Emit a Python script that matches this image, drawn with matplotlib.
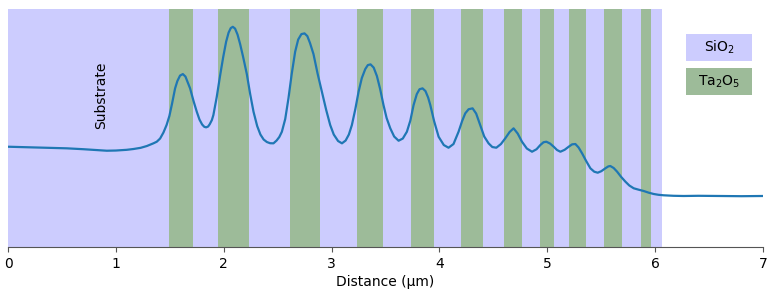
import matplotlib
matplotlib.use("Agg")
import matplotlib.pyplot as plt
from matplotlib.patches import Rectangle

# layer stack: SiO2 background up to stack_end, Ta2O5 bands on top
stack_end = 6.064
ta2o5_start = [1.496, 1.948, 2.610, 3.235, 3.738, 4.200, 4.601, 4.929, 5.204, 5.526, 5.872]
ta2o5_end = [1.713, 2.233, 2.894, 3.476, 3.952, 4.403, 4.768, 5.065, 5.355, 5.693, 5.965]

dist = [0.000, 0.100, 0.235, 0.400, 0.545, 0.700, 0.850, 0.916, 1.000, 1.100,
        1.162, 1.230, 1.287, 1.348, 1.379, 1.410, 1.441, 1.470, 1.496, 1.520,
        1.549, 1.570, 1.595, 1.621, 1.645, 1.665, 1.688, 1.720, 1.750, 1.775,
        1.800, 1.820, 1.837, 1.855, 1.870, 1.890, 1.904, 1.935, 1.967, 1.995,
        2.022, 2.045, 2.065, 2.084, 2.105, 2.128, 2.152, 2.180, 2.214, 2.245,
        2.276, 2.310, 2.340, 2.370, 2.400, 2.430, 2.461, 2.490, 2.515, 2.539,
        2.570, 2.600, 2.630, 2.662, 2.690, 2.720, 2.749, 2.775, 2.800, 2.832,
        2.870, 2.910, 2.950, 2.987, 3.020, 3.060, 3.096, 3.130, 3.160, 3.188,
        3.220, 3.250, 3.280, 3.312, 3.336, 3.361, 3.390, 3.420, 3.450, 3.481,
        3.510, 3.544, 3.580, 3.621, 3.660, 3.698, 3.730, 3.760, 3.790, 3.815,
        3.843, 3.870, 3.895, 3.915, 3.950, 3.992, 4.040, 4.084, 4.130, 4.177,
        4.210, 4.239, 4.270, 4.307, 4.340, 4.378, 4.415, 4.455, 4.490, 4.527,
        4.570, 4.610, 4.650, 4.687, 4.725, 4.765, 4.810, 4.858, 4.900, 4.935,
        4.965, 4.991, 5.025, 5.059, 5.090, 5.121, 5.160, 5.198, 5.230, 5.260,
        5.290, 5.322, 5.360, 5.399, 5.435, 5.467, 5.500, 5.538, 5.565, 5.584,
        5.615, 5.647, 5.685, 5.724, 5.760, 5.801, 5.850, 5.893, 5.940, 5.986,
        6.030, 6.079, 6.170, 6.264, 6.400, 6.574, 6.800, 6.997]
signal = [100.3, 100.0, 99.7, 99.2, 98.7, 97.8, 96.8, 96.3, 96.5, 97.2,
          98.0, 99.2, 101.0, 103.7, 105.3, 108.5, 114.5, 122.0, 131.0, 143.0,
          158.7, 166.0, 171.5, 173.0, 170.5, 165.0, 158.7, 146.0, 135.3, 127.5,
          122.5, 120.2, 119.7, 120.5, 122.8, 127.0, 132.0, 150.0, 172.0, 190.0,
          205.3, 214.5, 219.0, 220.3, 218.5, 212.5, 203.0, 190.0, 173.0, 153.0,
          135.3, 121.0, 112.5, 107.5, 105.0, 103.8, 103.7, 106.5, 110.0, 115.3,
          128.0, 148.7, 173.0, 195.3, 207.5, 213.0, 213.7, 211.0, 204.0, 193.0,
          173.5, 155.3, 137.0, 122.0, 112.5, 106.0, 103.7, 106.5, 112.5, 122.0,
          138.0, 155.3, 169.0, 178.0, 182.0, 182.7, 179.5, 171.0, 158.0, 142.0,
          129.0, 118.7, 110.5, 106.3, 108.5, 115.3, 126.5, 142.0, 153.0, 157.8,
          158.7, 156.0, 149.5, 142.0, 126.0, 110.3, 102.0, 99.3, 103.0, 115.3,
          126.0, 133.7, 137.8, 138.7, 133.5, 122.0, 110.5, 103.7, 100.0, 99.3,
          103.0, 108.7, 115.0, 118.7, 113.5, 105.3, 98.5, 95.3, 97.8, 102.0,
          104.8, 105.3, 103.5, 100.3, 97.0, 95.3, 97.2, 100.3, 102.7, 103.0,
          99.5, 93.7, 86.0, 78.7, 75.3, 74.3, 75.8, 78.7, 80.6, 81.0,
          79.0, 75.3, 70.0, 65.3, 61.5, 58.7, 57.2, 56.0, 54.3, 53.0,
          52.2, 51.7, 51.2, 51.0, 51.2, 51.0, 50.8, 51.0]

sio2_color = "#ccccfe"
ta2o5_color = "#9dbb99"

fig = plt.figure(figsize=(7.7, 2.94), dpi=100)
ax = fig.add_axes([0.0104, 0.160, 0.9806, 0.809])

ax.axvspan(0, stack_end, color=sio2_color, lw=0, zorder=0)
for a, b in zip(ta2o5_start, ta2o5_end):
    ax.axvspan(a, b, color=ta2o5_color, lw=0, zorder=1)

ax.plot(dist, signal, color="#1f77b4", lw=1.6, zorder=3)

ax.set_xlim(0, 7)
ax.set_ylim(0, 238)
ax.set_xticks(range(8))
ax.set_yticks([])
for s in ["left", "top", "right"]:
    ax.spines[s].set_visible(False)
ax.spines["bottom"].set_color("#555555")
ax.tick_params(axis="x", colors="#555555", labelcolor="black", labelsize=10)
ax.set_xlabel("Distance (μm)", fontsize=10, labelpad=3)

ax.text(0.86, 152, "Substrate", rotation=90, ha="center", va="center", fontsize=10, zorder=4)

# legend boxes
for y0, col, lab in [(0.783, sio2_color, "SiO$_2$"), (0.639, ta2o5_color, "Ta$_2$O$_5$")]:
    ax.add_patch(Rectangle((0.898, y0), 0.0878, 0.112, transform=ax.transAxes,
                           facecolor=col, edgecolor="none", zorder=4))
    ax.text(0.898 + 0.0439, y0 + 0.056, lab, transform=ax.transAxes,
            ha="center", va="center", fontsize=10, zorder=5)

fig.savefig("out.png", dpi=100)
